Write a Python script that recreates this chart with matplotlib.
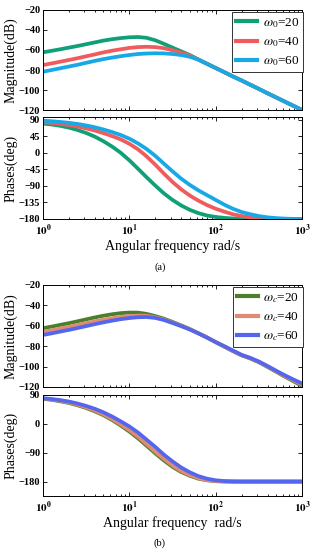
import matplotlib
matplotlib.use("Agg")
import matplotlib.pyplot as plt
from matplotlib.ticker import LogLocator, NullFormatter

plt.rcParams['font.family'] = ['Liberation Serif', 'DejaVu Serif']
plt.rcParams['mathtext.fontset'] = 'stix'

# ---------------- data ----------------
freq = [1, 1.26, 1.58, 2, 2.51, 3.16, 3.98, 5.01, 6.31, 7.94, 10, 12.6, 15.8, 20, 25.1, 31.6,
        39.8, 50.1, 63.1, 79.4, 100, 126, 158, 200, 251, 316, 398, 501, 631, 794, 1000]

# (a) omega_0 = 20 / 40 / 60
mag_a_20 = [-62.3, -60.8, -59.3, -57.6, -56.0, -54.2, -52.4, -50.6, -49.2, -48.1, -47.3, -47.0, -47.8, -50.3, -53.8, -57.6,
            -61.3, -65.0, -69.5, -73.8, -78.0, -82.2, -86.4, -90.5, -94.7, -98.9, -103.2, -107.4, -111.6, -115.8, -120.0]
mag_a_40 = [-75.0, -73.4, -71.7, -70.0, -68.2, -66.3, -64.4, -62.4, -60.7, -59.3, -57.9, -57.1, -56.8, -57.1, -58.2, -60.2,
            -62.6, -65.5, -69.7, -73.8, -78.0, -82.2, -86.4, -90.5, -94.7, -98.9, -103.2, -107.4, -111.6, -115.8, -120.0]
mag_a_60 = [-81.7, -80.0, -78.3, -76.5, -74.8, -72.8, -70.9, -69.1, -67.6, -66.2, -65.0, -64.0, -63.5, -63.3, -63.4, -64.0,
            -65.0, -66.8, -69.6, -73.8, -78.0, -82.2, -86.4, -90.5, -94.7, -98.9, -103.2, -107.4, -111.6, -115.8, -120.0]
ph_a_20 = [80, 77.5, 74, 69, 62.5, 54.5, 44.5, 32, 17.5, 0.5, -20, -43, -66, -89, -110, -128,
           -143, -155, -164, -170.5, -174.5, -177, -178.6, -179.4, -179.8, -180, -180, -180, -180, -180, -180]
ph_a_40 = [84, 82, 79.5, 76, 72, 67, 61, 54, 46, 37, 25, 10, -9, -32, -56, -79,
           -99, -116, -130, -142, -152, -160, -167, -172, -175.5, -178, -179.3, -180, -180, -180, -180]
ph_a_60 = [88, 86.5, 84.5, 82, 79, 75, 70, 64, 57, 49, 39, 26, 11, -8, -29, -50,
           -70, -87, -102, -115, -128, -141, -152, -161, -167, -172, -175.5, -177.5, -179, -179.7, -180]

# (b) omega_c = 20 / 40 / 60
mag_b_20 = [-62.3, -60.8, -59.1, -57.4, -55.6, -53.7, -51.8, -50.1, -48.7, -47.6, -47.0, -47.1, -48.3, -50.5, -53.0, -56.2,
            -59.6, -63.2, -67.3, -71.5, -76.0, -80.5, -84.8, -89.0, -92.0, -95.7, -100.3, -105.0, -109.8, -114.3, -119.0]
mag_b_40 = [-66.0, -64.4, -62.7, -61.0, -59.2, -57.4, -55.6, -54.0, -52.6, -51.4, -50.5, -50.0, -50.2, -51.6, -53.8, -56.8,
            -60.0, -63.5, -67.4, -71.5, -76.0, -80.3, -84.5, -88.8, -91.7, -95.3, -99.8, -104.5, -109.2, -113.5, -117.8]
mag_b_60 = [-69.0, -67.4, -65.7, -64.0, -62.2, -60.3, -58.4, -56.6, -55.0, -53.5, -52.4, -51.6, -51.4, -52.3, -54.3, -57.2,
            -60.3, -63.6, -67.4, -71.5, -76.0, -80.0, -84.2, -88.5, -91.4, -95.0, -99.4, -104.0, -108.5, -112.6, -116.5]
ph_b_20 = [78, 75, 70.5, 65, 58, 49.5, 39, 27, 12, -5, -24, -45, -68, -92, -114, -134,
           -150, -162, -171, -176, -178.8, -179.8, -180, -180, -180, -180, -180, -180, -180, -180, -180]
ph_b_40 = [79, 76, 72, 66.5, 60, 51.5, 41.5, 29.5, 15, -1.5, -20, -40, -63, -87, -109, -130,
           -147, -160, -169.5, -175.5, -178.5, -179.7, -180, -180, -180, -180, -180, -180, -180, -180, -180]
ph_b_60 = [80, 77.5, 74, 69.5, 63.5, 56, 47, 36, 23, 8, -8, -27, -49, -72, -96, -117,
           -136, -151, -163, -171, -176, -178.5, -179.6, -180, -180, -180, -180, -180, -180, -180, -180]

labels_a = [r'$\omega_0$=20', r'$\omega_0$=40', r'$\omega_0$=60']
labels_b = [r'$\omega_c$=20', r'$\omega_c$=40', r'$\omega_c$=60']
colors_a = ['#10a077', '#f05c5e', '#17a8e6']
colors_b = ['#4c7f2b', '#e08a72', '#5566ee']

W, H = 319, 550
fig = plt.figure(figsize=(W / 100, H / 100), dpi=100)


def ax_at(x0, y0, x1, y1):
    return fig.add_axes([x0 / W, 1 - y1 / H, (x1 - x0) / W, (y1 - y0) / H])


def style(ax, xlabels):
    ax.set_xscale('log')
    ax.set_xlim(1, 1000)
    ax.xaxis.set_major_locator(LogLocator(base=10, numticks=10))
    ax.xaxis.set_minor_locator(LogLocator(base=10, subs=range(2, 10), numticks=20))
    ax.xaxis.set_minor_formatter(NullFormatter())
    ax.tick_params(which='both', direction='in', top=True, right=True, width=0.6)
    ax.tick_params(which='major', length=3)
    ax.tick_params(which='minor', length=1.6)
    for s in ax.spines.values():
        s.set_linewidth(0.7)
    if xlabels:
        ax.set_xticks([1, 10, 100, 1000])
        ax.set_xticklabels([r'$\mathbf{10^{0}}$', r'$\mathbf{10^{1}}$', r'$\mathbf{10^{2}}$', r'$\mathbf{10^{3}}$'], fontsize=8)
    else:
        ax.set_xticklabels([])
    for lab in ax.get_yticklabels():
        lab.set_fontweight('bold')
        lab.set_fontsize(7.5)
    ax.tick_params(axis='y', pad=2)
    ax.tick_params(axis='x', pad=3)


def panel(y_mag, y_ph, mags, phs, labels, colors, ph_lim, ph_ticks, xlab, cap, cap_y):
    axm = ax_at(43, y_mag[0], 302, y_mag[1])
    for m, c, l in zip(mags, colors, labels):
        axm.plot(freq, m, color=c, lw=2.7, label=l)
    axm.set_ylim(-120, -20)
    axm.set_yticks([-120, -100, -80, -60, -40, -20])
    style(axm, False)
    axm.set_ylabel('Magnitude(dB)', fontsize=10)
    leg = axm.legend(loc='upper right', bbox_to_anchor=(1.004, 0.98), fontsize=9.5,
                     frameon=True, fancybox=False, edgecolor='#333333', framealpha=1,
                     handlelength=1.6, handletextpad=0.4, borderpad=0.3, labelspacing=0.42,
                     borderaxespad=0)
    leg.get_frame().set_linewidth(0.7)
    for line in leg.get_lines():
        line.set_linewidth(3)

    axp = ax_at(43, y_ph[0], 302, y_ph[1])
    for p, c in zip(phs, colors):
        axp.plot(freq, p, color=c, lw=2.7)
    axp.set_ylim(*ph_lim)
    axp.set_yticks(ph_ticks)
    style(axp, True)
    axp.set_ylabel('Phases(deg)', fontsize=10)
    axp.set_xlabel(xlab, fontsize=10, labelpad=1)
    for ax in (axm, axp):
        ax.yaxis.set_label_coords(-25 / 259, 0.5)
    fig.text(160 / W, 1 - cap_y / H, cap, ha='center', va='center', fontsize=7.5)


panel((10, 110), (117, 219), [mag_a_20, mag_a_40, mag_a_60], [ph_a_20, ph_a_40, ph_a_60],
      labels_a, colors_a, (-180, 98), [-180, -135, -90, -45, 0, 45, 90],
      'Angular frequency rad/s', '(a)', 267)
panel((285, 387), (395, 496), [mag_b_20, mag_b_40, mag_b_60], [ph_b_20, ph_b_40, ph_b_60],
      labels_b, colors_b, (-225, 90), [-180, -90, 0, 90],
      'Angular frequency  rad/s', '(b)', 543)

fig.savefig('out.png', dpi=100)
